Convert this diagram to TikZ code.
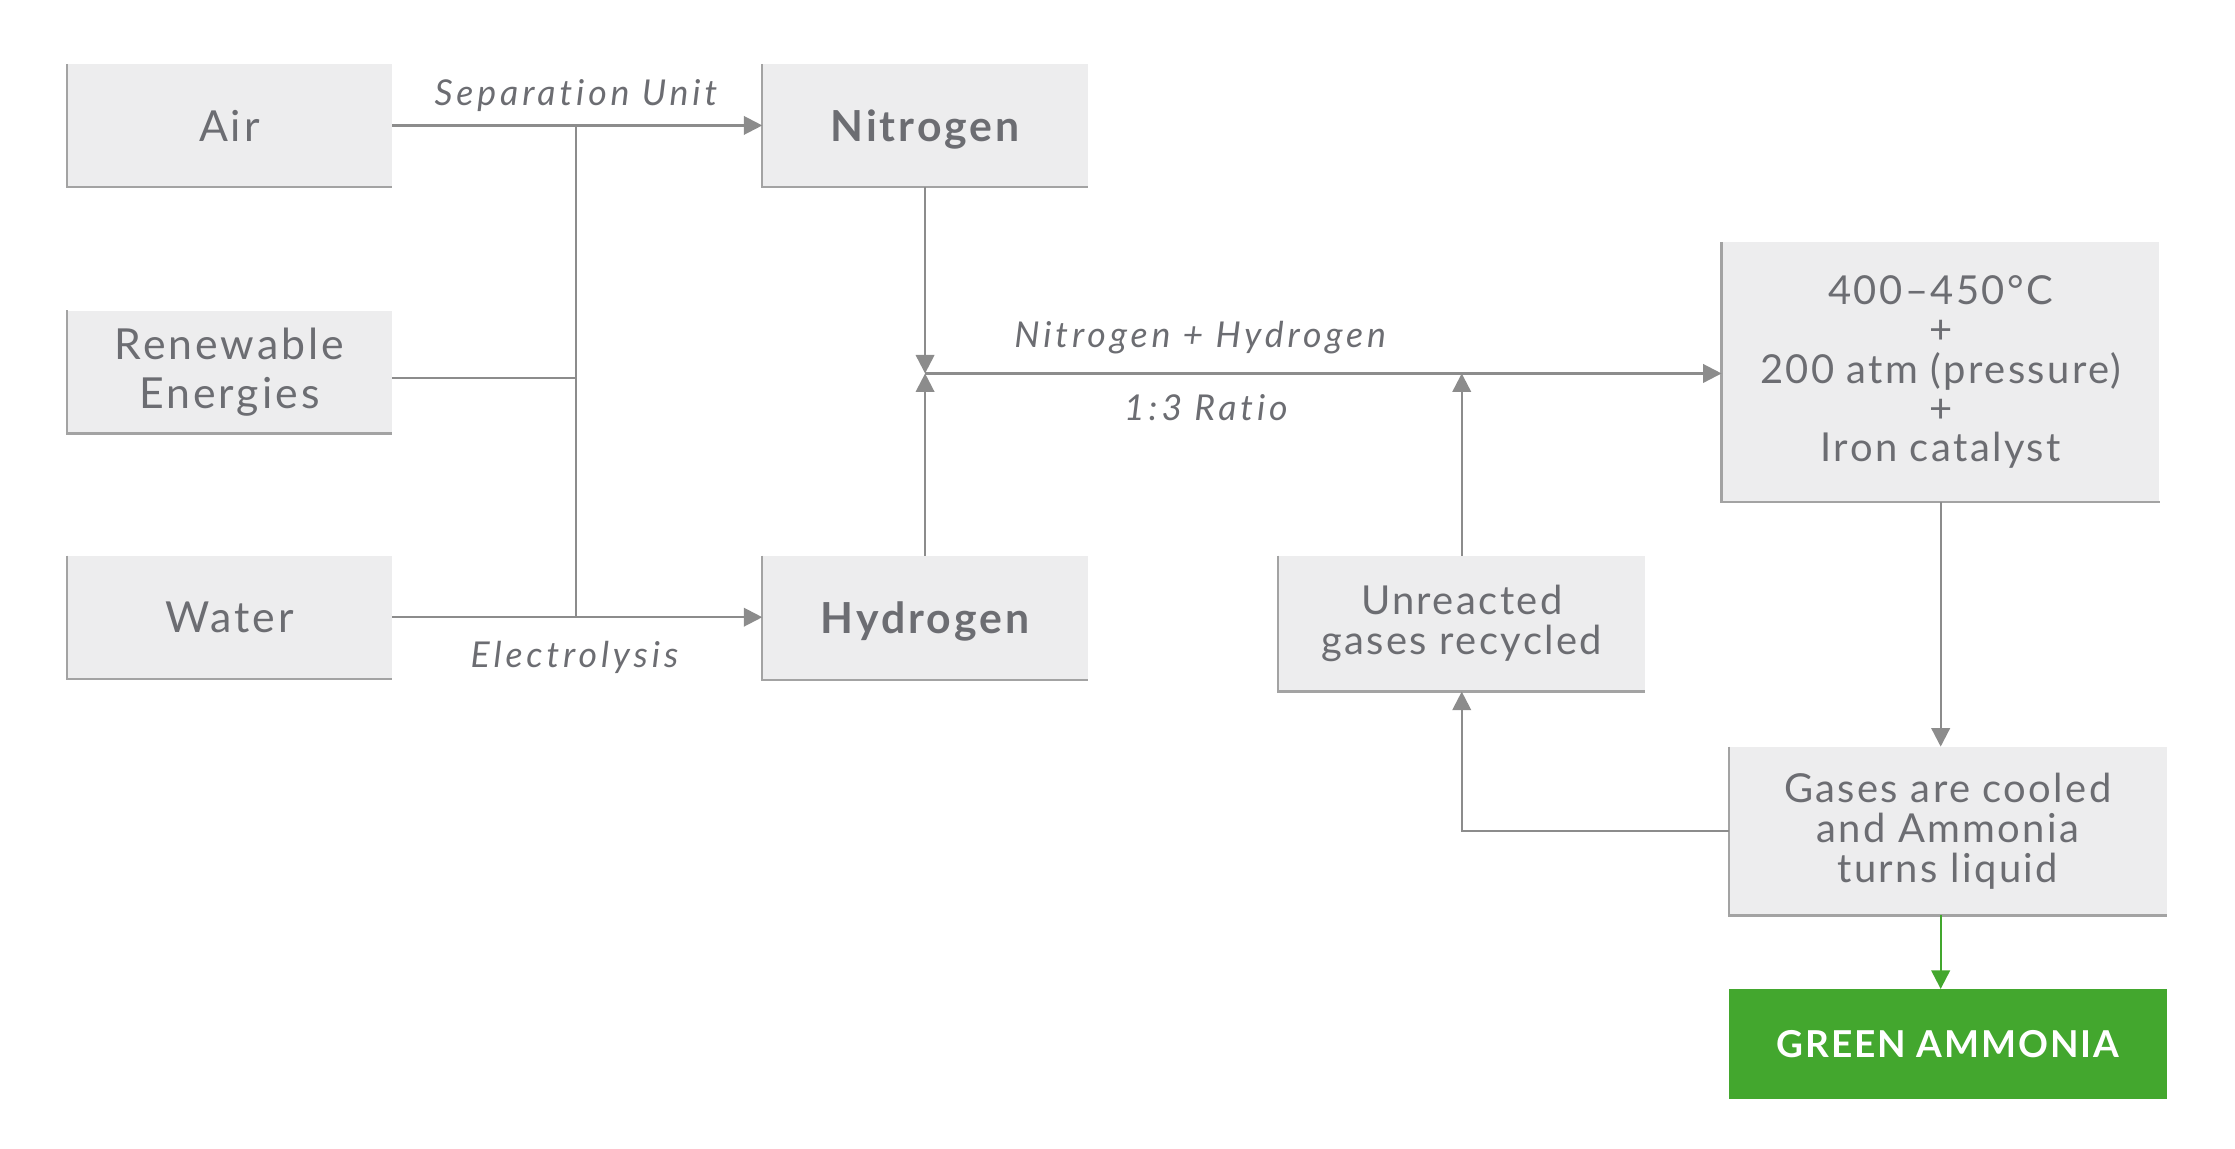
\documentclass[tikz,border=0pt]{standalone}
\usepackage{fontspec}
\setmainfont{Lato}[LetterSpace=7, Ligatures=NoCommon]
\usetikzlibrary{arrows.meta}
\definecolor{boxfill}{HTML}{EDEDEE}
\definecolor{edgec}{HTML}{A3A3A3}
\definecolor{wirec}{HTML}{8C8C8C}
\definecolor{txt}{HTML}{6C6D72}
\definecolor{grn}{HTML}{43A72E}
\begin{document}
\begin{tikzpicture}[x=1pt,y=-1pt,
 box/.style={fill=boxfill, inner sep=0pt, align=center, text=txt, font=\fontsize{30}{34}\selectfont},
 boxedge/.style={draw=edgec, line width=1.6pt},
 wire/.style={draw=wirec, line width=1.6pt},
 arr/.style={wire, -{Triangle[length=13pt,width=13pt]}},
 garr/.style={draw=grn, line width=1.6pt, -{Triangle[length=13pt,width=13pt]}},
 lab/.style={text=txt, font=\fontsize{25}{28}\selectfont\itshape\addfontfeature{LetterSpace=11}, inner sep=0pt},
]
\useasboundingbox (0,0) rectangle (1568,806);
\node[box, minimum width=228pt, minimum height=86pt] (air) at (161,88) {Air};
\node[box, minimum width=228pt, minimum height=86pt] (ren) at (161,261) {Renewable\\Energies};
\node[box, minimum width=228pt, minimum height=86pt] (water) at (161,433) {Water};
\node[box, minimum width=228pt, minimum height=86pt, font=\fontsize{30}{34}\selectfont\bfseries] (nit) at (649,88) {\raisebox{-11pt}[0pt][0pt]{Nitrogen}};
\node[box, minimum width=228pt, minimum height=87pt, font=\fontsize{30}{34}\selectfont\bfseries] (hyd) at (649,433.5) {\raisebox{-11pt}[0pt][0pt]{Hydrogen}};
\node[box, minimum width=307pt, minimum height=182pt, font=\fontsize{28}{27.5}\selectfont\addfontfeature{LetterSpace=6}] (reac) at (1361.5,261) {400–450°C\\+\\200 atm (pressure)\\+\\Iron catalyst};
\node[box, minimum width=257pt, minimum height=95pt, font=\fontsize{28}{28}\selectfont\addfontfeature{LetterSpace=6}] (unr) at (1025.5,437.5) {Unreacted\\gases recycled};
\node[box, minimum width=307pt, minimum height=118pt, font=\fontsize{28}{28}\selectfont\addfontfeature{LetterSpace=6}] (cool) at (1366.5,583) {Gases are cooled\\and Ammonia\\turns liquid};
\node[box, fill=grn, text=white, minimum width=307pt, minimum height=77pt, font=\fontsize{26}{30}\selectfont\bfseries\addfontfeature{LetterSpace=5}] (green) at (1366.5,732.5) {GREEN AMMONIA};
\foreach \n in {air,ren,water,nit,hyd,reac,unr,cool}
  \draw[boxedge] (\n.north west) -- (\n.south west) -- (\n.south east);
% connectors
\coordinate (jtop) at (404,88);
\coordinate (jbot) at (404,433);
\coordinate (jmid) at (404,265);
\coordinate (mix) at (649,262);
\draw[arr] (air.east) -- (nit.west);
\draw[arr] (water.east) -- (hyd.west |- water.east);
\draw[wire] (jtop) -- (jbot);
\draw[wire] (ren.east |- jmid) -- (jmid);
\draw[arr] (nit.south) -- (mix);
\draw[arr] (hyd.north) -- (mix);
\draw[arr] (mix) -- (mix -| reac.west);
\draw[arr] (unr.north) -- (unr.north |- mix);
\draw[arr] (reac.south) -- (reac.south |- cool.north);
\draw[arr] (cool.west) -| (unr.south);
\draw[garr] (reac.south |- cool.south) -- (reac.south |- green.north);
% labels
\node[lab] (l1) at (404,67) {Separation Unit};
\node[lab] (l2) at (403,461) {Electrolysis};
\node[lab] (l3) at (842,237) {Nitrogen + Hydrogen};
\node[lab] (l4) at (846,286) {1:3 Ratio};
\end{tikzpicture}
\end{document}
